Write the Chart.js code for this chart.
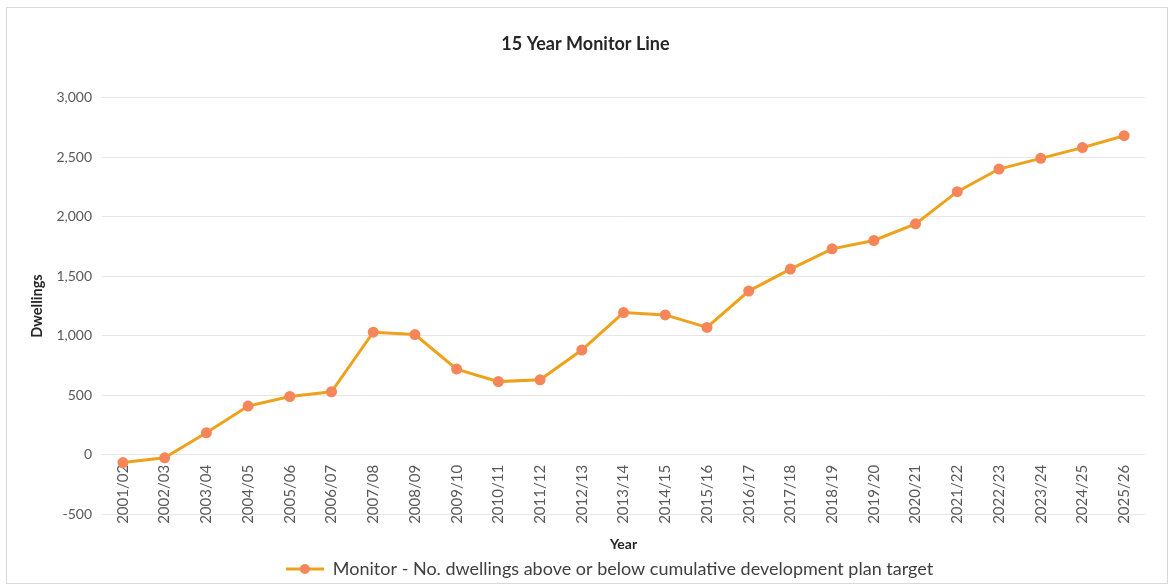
<!DOCTYPE html>
<html>
<head>
<meta charset="utf-8">
<script src="https://cdn.jsdelivr.net/npm/chart.js@4"></script>
<style>
  body { margin: 0; background: #fff; }
  #wrap { position: relative; width: 1171px; height: 588px; }
  #frame { position: absolute; left: 6px; top: 7px; width: 1160px; height: 575px; border: 1px solid #d9d9d9; pointer-events: none; }
</style>
</head>
<body>
<div id="wrap">
  <canvas id="chart" width="1171" height="588"></canvas>
  <div id="frame"></div>
</div>
<script>
// data
const years = ['2001/02','2002/03','2003/04','2004/05','2005/06','2006/07','2007/08','2008/09','2009/10',
  '2010/11','2011/12','2012/13','2013/14','2014/15','2015/16','2016/17','2017/18','2018/19','2019/20',
  '2020/21','2021/22','2022/23','2023/24','2024/25','2025/26'];
const monitor = [-65, -25, 185, 410, 490, 530, 1030, 1010, 720, 615, 630, 880, 1195, 1175, 1070,
  1375, 1560, 1730, 1800, 1940, 2210, 2400, 2490, 2580, 2680];
const seriesName = 'Monitor - No. dwellings above or below cumulative development plan target';
const yTicks = { min: -500, max: 3000, step: 500 };

const lineColor = '#EEA21C';
const dotColor = '#F5865A';
const font = 'Lato, Carlito, "Open Sans", sans-serif';

// legend marker: short line with a dot (left part blank so the legend sits a bit right, as in excel)
const marker = document.createElement('canvas');
marker.width = 86; marker.height = 14;
(function () {
  const c = marker.getContext('2d');
  c.strokeStyle = lineColor; c.lineWidth = 3;
  c.beginPath(); c.moveTo(48, 7); c.lineTo(86, 7); c.stroke();
  c.fillStyle = dotColor;
  c.beginPath(); c.arc(67, 7, 5, 0, Math.PI * 2); c.fill();
})();

new Chart(document.getElementById('chart'), {
  type: 'line',
  data: {
    labels: years,
    datasets: [{
      label: seriesName,
      data: monitor,
      borderColor: lineColor,
      backgroundColor: dotColor,
      borderWidth: 3,
      pointRadius: 5.5,
      pointBackgroundColor: dotColor,
      pointBorderColor: dotColor,
      pointBorderWidth: 0,
      tension: 0,
      fill: false
    }]
  },
  options: {
    responsive: false,
    animation: false,
    layout: { padding: { top: 10, left: 26, right: 26, bottom: 0 } },
    plugins: {
      title: {
        display: true,
        text: '15 Year Monitor Line',
        color: '#262626',
        font: { family: font, size: 18, weight: 'bold' },
        padding: { top: 23, bottom: 43 }
      },
      legend: {
        position: 'bottom',
        title: { display: true, text: '', padding: { top: 22, bottom: 4 }, font: { size: 13 } },
        labels: {
          usePointStyle: true,
          pointStyle: marker,
          pointStyleWidth: 86,
          padding: 4,
          color: '#404040',
          font: { family: font, size: 18 }
        }
      },
      tooltip: { enabled: false }
    },
    scales: {
      x: {
        position: { y: 0 },
        offset: true,
        grid: { display: false },
        border: { display: false },
        ticks: {
          minRotation: 90, maxRotation: 90,
          color: '#595959',
          padding: 2,
          font: { family: font, size: 15 }
        },
        title: {
          display: true, text: 'Year', color: '#262626',
          font: { family: font, size: 14, weight: 'bold' },
          padding: { top: 10, bottom: 0 }
        }
      },
      y: {
        min: yTicks.min,
        max: yTicks.max,
        grid: { color: '#e6e6e6', drawTicks: false },
        border: { display: false },
        ticks: {
          stepSize: yTicks.step,
          color: '#595959',
          padding: 10,
          font: { family: font, size: 14 }
        },
        title: {
          display: true, text: 'Dwellings', color: '#262626',
          font: { family: font, size: 14.5, weight: 'bold' },
          padding: { top: 3, bottom: 0 }
        }
      }
    }
  }
});
</script>
</body>
</html>
